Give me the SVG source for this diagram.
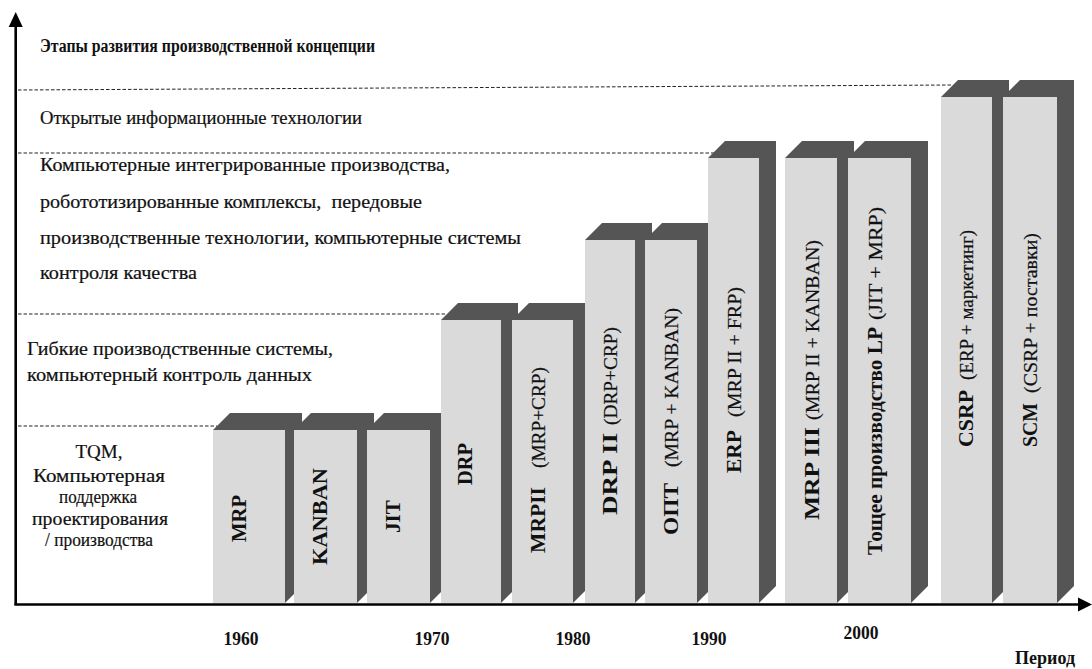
<svg xmlns="http://www.w3.org/2000/svg" width="1092" height="669" viewBox="0 0 1092 669">
<defs>
<style>
.front{fill:#dadada}
.dark{fill:#555555}
.dash{stroke:#222;stroke-width:1;stroke-dasharray:3.5 2;fill:none}
.axis{stroke:#000;stroke-width:2.6;fill:none}
.t{font-family:"Liberation Serif","DejaVu Serif",serif;font-size:18px;fill:#111;stroke:#111;stroke-width:0.2}
.b{font-family:"Liberation Serif","DejaVu Serif",serif;font-weight:bold;fill:#111}
.lbl{font-size:21px}
.par{font-family:"Liberation Serif","DejaVu Serif",serif;font-size:19px;fill:#111;stroke:#111;stroke-width:0.2}
.yr{font-size:18px}
.c{text-anchor:middle}
</style>
</defs>
<rect width="1092" height="669" fill="#ffffff"/>

<g id="gridlines">
<line class="dash" x1="18" y1="90" x2="953" y2="85"/>
<line class="dash" x1="18" y1="153" x2="714" y2="153"/>
<line class="dash" x1="18" y1="314" x2="446" y2="314"/>
<line class="dash" x1="18" y1="426" x2="217" y2="426"/>
</g>

<g id="stage-texts">
<text class="b" x="40" y="52" font-size="18" textLength="335" lengthAdjust="spacingAndGlyphs">Этапы развития производственной концепции</text>
<text class="t" x="40" y="124" textLength="322" lengthAdjust="spacingAndGlyphs">Открытые информационные технологии</text>
<text class="t" x="40" y="171" textLength="410" lengthAdjust="spacingAndGlyphs">Компьютерные интегрированные производства,</text>
<text class="t" x="40" y="208" textLength="382" lengthAdjust="spacingAndGlyphs" style="white-space:pre">робототизированные комплексы,  передовые</text>
<text class="t" x="40" y="244" textLength="481" lengthAdjust="spacingAndGlyphs">производственные технологии, компьютерные системы</text>
<text class="t" x="40" y="279" textLength="157" lengthAdjust="spacingAndGlyphs">контроля качества</text>
<text class="t" x="27" y="355" textLength="306" lengthAdjust="spacingAndGlyphs">Гибкие производственные системы,</text>
<text class="t" x="27" y="381" textLength="285" lengthAdjust="spacingAndGlyphs">компьютерный контроль данных</text>
<text class="t c" x="99" y="458" textLength="47" lengthAdjust="spacingAndGlyphs">TQM,</text>
<text class="t c" x="99" y="482" textLength="132" lengthAdjust="spacingAndGlyphs">Компьютерная</text>
<text class="t c" x="98" y="503" textLength="78" lengthAdjust="spacingAndGlyphs">поддержка</text>
<text class="t c" x="100" y="525" textLength="136" lengthAdjust="spacingAndGlyphs">проектирования</text>
<text class="t c" x="99" y="546" textLength="108" lengthAdjust="spacingAndGlyphs">/ производства</text>
</g>

<g id="bar-mrp">
<polygon class="dark" points="213,430 230,413 302,413 302,586 285,603"/>
<rect class="front" x="213" y="430" width="72" height="173"/>
<text class="b lbl" transform="translate(246,542) rotate(-90)" textLength="47" lengthAdjust="spacingAndGlyphs">MRP</text>
</g>
<g id="bar-kanban">
<polygon class="dark" points="294,430 311,413 374,413 374,586 357,603"/>
<rect class="front" x="294" y="430" width="63" height="173"/>
<text class="b lbl" transform="translate(327,565) rotate(-90)" textLength="97" lengthAdjust="spacingAndGlyphs">KANBAN</text>
</g>
<g id="bar-jit">
<polygon class="dark" points="367,430 384,413 447,413 447,586 430,603"/>
<rect class="front" x="367" y="430" width="63" height="173"/>
<text class="b lbl" transform="translate(400,533) rotate(-90)" textLength="33" lengthAdjust="spacingAndGlyphs">JIT</text>
</g>
<g id="bar-drp">
<polygon class="dark" points="441,320 458,303 518,303 518,586 501,603"/>
<rect class="front" x="441" y="320" width="60" height="283"/>
<text class="b lbl" transform="translate(472,485) rotate(-90)" textLength="42" lengthAdjust="spacingAndGlyphs">DRP</text>
</g>
<g id="bar-mrp2">
<polygon class="dark" points="512,320 529,303 590,303 590,586 573,603"/>
<rect class="front" x="512" y="320" width="61" height="283"/>
<text class="b lbl" transform="translate(545,553) rotate(-90)" textLength="66" lengthAdjust="spacingAndGlyphs">MRPII</text>
<text class="par" transform="translate(545,468) rotate(-90)" textLength="101" lengthAdjust="spacingAndGlyphs">(MRP+CRP)</text>
</g>
<g id="bar-drp2">
<polygon class="dark" points="585,240 602,223 652,223 652,586 635,603"/>
<rect class="front" x="585" y="240" width="50" height="363"/>
<text class="b lbl" transform="translate(617,515) rotate(-90)" textLength="82" lengthAdjust="spacingAndGlyphs">DRP II</text>
<text class="par" transform="translate(617,425) rotate(-90)" textLength="98" lengthAdjust="spacingAndGlyphs">(DRP+CRP)</text>
</g>
<g id="bar-opt">
<polygon class="dark" points="645,240 662,223 714,223 714,586 697,603"/>
<rect class="front" x="645" y="240" width="52" height="363"/>
<text class="b lbl" transform="translate(678,535) rotate(-90)" textLength="52" lengthAdjust="spacingAndGlyphs">ОПТ</text>
<text class="par" transform="translate(678,467) rotate(-90)" textLength="159" lengthAdjust="spacingAndGlyphs">(MRP + KANBAN)</text>
</g>
<g id="bar-erp">
<polygon class="dark" points="708,158 725,141 776,141 776,586 759,603"/>
<rect class="front" x="708" y="158" width="51" height="445"/>
<text class="b lbl" transform="translate(741,473) rotate(-90)" textLength="43" lengthAdjust="spacingAndGlyphs">ERP</text>
<text class="par" transform="translate(741,417) rotate(-90)" textLength="130" lengthAdjust="spacingAndGlyphs">(MRP II + FRP)</text>
</g>
<g id="bar-mrp3">
<polygon class="dark" points="785,158 802,141 854,141 854,586 837,603"/>
<rect class="front" x="785" y="158" width="52" height="445"/>
<text class="b lbl" transform="translate(819,520) rotate(-90)" textLength="93" lengthAdjust="spacingAndGlyphs">MRP III</text>
<text class="par" transform="translate(819,420) rotate(-90)" textLength="180" lengthAdjust="spacingAndGlyphs">(MRP II + KANBAN)</text>
</g>
<g id="bar-lp">
<polygon class="dark" points="848,158 865,141 928,141 928,586 911,603"/>
<rect class="front" x="848" y="158" width="63" height="445"/>
<text class="b lbl" transform="translate(882,555) rotate(-90)" textLength="228" lengthAdjust="spacingAndGlyphs">Тощее производство LP</text>
<text class="par" transform="translate(882,320) rotate(-90)" textLength="113" lengthAdjust="spacingAndGlyphs">(JIT + MRP)</text>
</g>
<g id="bar-csrp">
<polygon class="dark" points="941,97 958,80 1009,80 1009,586 992,603"/>
<rect class="front" x="941" y="97" width="51" height="506"/>
<text class="b lbl" transform="translate(973,447) rotate(-90)" textLength="57" lengthAdjust="spacingAndGlyphs">CSRP</text>
<text class="par" transform="translate(973,380) rotate(-90)" textLength="150" lengthAdjust="spacingAndGlyphs">(ERP + маркетинг)</text>
</g>
<g id="bar-scm">
<polygon class="dark" points="1003,97 1020,80 1074,80 1074,586 1057,603"/>
<rect class="front" x="1003" y="97" width="54" height="506"/>
<text class="b lbl" transform="translate(1037,447) rotate(-90)" textLength="44" lengthAdjust="spacingAndGlyphs">SCM</text>
<text class="par" transform="translate(1037,393) rotate(-90)" textLength="160" lengthAdjust="spacingAndGlyphs">(CSRP + поставки)</text>
</g>

<g id="axes">
<line class="axis" x1="15.7" y1="605" x2="15.7" y2="22"/>
<polygon points="15.7,12 8.7,27 22.7,27" fill="#000"/>
<line class="axis" x1="14.4" y1="604.5" x2="1080" y2="604.5"/>
<polygon points="1092,604.5 1078,597.5 1078,611.5" fill="#000"/>
</g>

<g id="axis-labels">
<text class="b yr c" x="241" y="645" textLength="35" lengthAdjust="spacingAndGlyphs">1960</text>
<text class="b yr c" x="432" y="645" textLength="35" lengthAdjust="spacingAndGlyphs">1970</text>
<text class="b yr c" x="573" y="645" textLength="35" lengthAdjust="spacingAndGlyphs">1980</text>
<text class="b yr c" x="709" y="645" textLength="35" lengthAdjust="spacingAndGlyphs">1990</text>
<text class="b yr c" x="861" y="639" textLength="35" lengthAdjust="spacingAndGlyphs">2000</text>
<text class="b yr c" x="1045" y="664" textLength="60" lengthAdjust="spacingAndGlyphs">Период</text>
</g>
</svg>
